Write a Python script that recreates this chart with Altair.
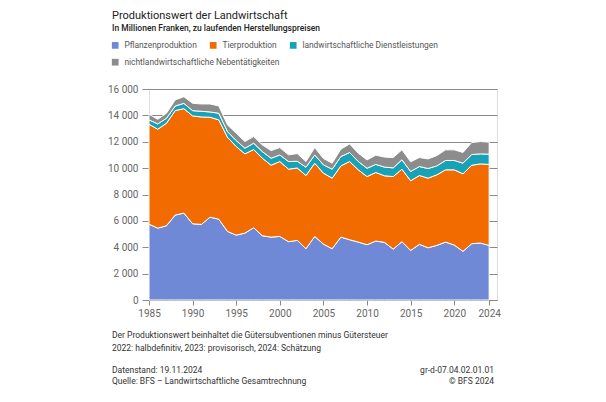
import altair as alt
import pandas as pd

years = list(range(1985, 2025))

pflanzen = [5750, 5450, 5630, 6440, 6590, 5780, 5730, 6280, 6130, 5200,
            4920, 5070, 5480, 4870, 4770, 4820, 4420, 4520, 3890, 4820,
            4240, 3890, 4770, 4570, 4390, 4190, 4470, 4370, 3860, 4420,
            3760, 4220, 3960, 4140, 4390, 4170, 3690, 4270, 4320, 4140]
tier = [7580, 7500, 7770, 7920, 7920, 8180, 8150, 7580, 7530, 7140,
        6720, 6010, 5930, 5880, 5450, 5680, 5500, 5490, 5550, 5550,
        5380, 5350, 5400, 5930, 5480, 5170, 5200, 5050, 5500, 5500,
        5280, 5220, 5280, 5350, 5480, 5700, 5880, 5950, 6000, 6140]
dienst = [330, 400, 380, 350, 400, 400, 430, 400, 500, 430,
          450, 430, 480, 500, 530, 500, 580, 510, 630, 630,
          630, 680, 710, 680, 630, 630, 610, 660, 660, 710,
          710, 680, 730, 680, 710, 710, 810, 810, 760, 780]
neben = [430, 350, 380, 455, 505, 555, 555, 605, 555, 505,
         555, 505, 505, 505, 580, 555, 505, 580, 430, 555,
         480, 455, 555, 655, 630, 630, 705, 755, 780, 755,
         730, 680, 730, 780, 805, 805, 805, 910, 935, 910]

series_names = ["Pflanzenproduktion", "Tierproduktion",
                "landwirtschaftliche Dienstleistungen",
                "nichtlandwirtschaftliche Nebentätigkeiten"]
series_colors = ["#6f89d6", "#f26b00", "#17a2b8", "#8c8c8c"]
x_ticks = [1985, 1990, 1995, 2000, 2005, 2010, 2015, 2020, 2024]
y_ticks = [0, 2000, 4000, 6000, 8000, 10000, 12000, 14000, 16000]

rows = []
for i, name in enumerate(series_names):
    vals = [pflanzen, tier, dienst, neben][i]
    for y, v in zip(years, vals):
        rows.append({"Jahr": y, "Serie": name, "Wert": v, "ord": i})
df = pd.DataFrame(rows)

FONT = "Roboto"

legend_common = dict(orient="none", direction="horizontal", title=None,
                     symbolType="square", symbolSize=45, symbolStrokeWidth=0,
                     symbolOpacity=1, labelFontSize=8.4, labelFont=FONT,
                     labelColor="#555", columnPadding=12, labelLimit=400,
                     labelOffset=5, padding=0)

x_enc = alt.X("Jahr:Q",
              scale=alt.Scale(domain=[1985, 2024.9], nice=False, zero=False),
              axis=alt.Axis(values=x_ticks, format="d", title=None, grid=False,
                            tickSize=5, tickColor="#888", domainColor="#888",
                            labelColor="#666", labelFontSize=10, labelFont=FONT,
                            labelPadding=3, labelFlush=False))
y_enc = alt.Y("Wert:Q", stack="zero",
              scale=alt.Scale(domain=[0, 16000], nice=False),
              axis=alt.Axis(values=y_ticks, title=None, grid=True,
                            gridColor="#8a8a8a", gridWidth=1, domain=False,
                            tickSize=7, tickColor="#8a8a8a",
                            labelColor="#666", labelFontSize=10, labelFont=FONT,
                            labelPadding=4,
                            labelExpr="replace(format(datum.value, ','), ',', ' ')"))

area = alt.Chart(df).mark_area(stroke="white", strokeWidth=1).encode(
    x=x_enc,
    y=y_enc,
    color=alt.Color("Serie:N",
                    scale=alt.Scale(domain=series_names, range=series_colors),
                    legend=alt.Legend(legendX=-38, legendY=-48,
                                      values=series_names[:3], **legend_common)),
    order=alt.Order("ord:Q", sort="ascending"),
)

# second legend row (same series, shown on its own line as in the original)
legend_row2 = alt.Chart(df[df["Serie"] == series_names[3]]).mark_point(
    opacity=0, size=1).encode(
    x="Jahr:Q",
    fill=alt.Fill("Serie:N",
                  scale=alt.Scale(domain=[series_names[3]], range=[series_colors[3]]),
                  legend=alt.Legend(legendX=-38, legendY=-31, **legend_common)),
)

def txt(s, x, y, size=8.5, color="#333", weight="normal", align="left"):
    return alt.Chart(pd.DataFrame({"t": [s]})).mark_text(
        align=align, baseline="alphabetic", fontSize=size, font=FONT,
        color=color, fontWeight=weight).encode(
        text="t:N", x=alt.value(x), y=alt.value(y))

texts = [
    txt("Produktionswert der Landwirtschaft", -37, -70, size=11, color="#222"),
    txt("In Millionen Franken, zu laufenden Herstellungspreisen", -37, -58.5,
        size=8.5, color="#222", weight=500),
    txt("Der Produktionswert beinhaltet die Gütersubventionen minus Gütersteuer",
        -37, 249),
    txt("2022: halbdefinitiv, 2023: provisorisch, 2024: Schätzung", -37, 262),
    txt("Datenstand: 19.11.2024", -37, 284),
    txt("Quelle: BFS – Landwirtschaftliche Gesamtrechnung", -37, 295),
    txt("gr-d-07.04.02.01.01", 345, 284, align="right"),
    txt("© BFS 2024", 345, 295, align="right"),
]

chart = alt.layer(area, legend_row2, *texts).properties(
    width=348, height=211,
    autosize=alt.AutoSizeParams(type="none"),
    padding={"left": 141, "top": 81, "right": 101, "bottom": 94},
).configure_view(stroke=None).configure(background="white")

chart.save("out.html", embed_options={"renderer": "svg", "actions": False})
